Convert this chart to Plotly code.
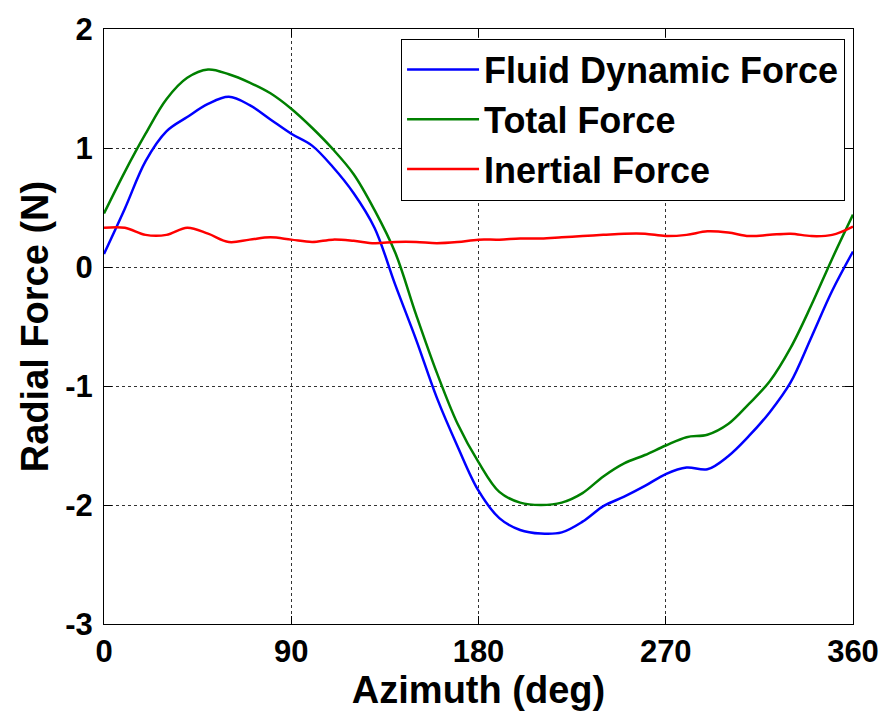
import plotly.graph_objects as go

# Azimuth positions (deg) and radial force components (N)
azimuth = [0, 10, 20, 30, 40, 50, 60, 70, 80, 90, 100, 110, 120, 130, 140, 150,
           160, 170, 180, 190, 200, 210, 220, 230, 240, 250, 260, 270, 280, 290,
           300, 310, 320, 330, 340, 350, 360]

fluid_dynamic = [0.11, 0.49, 0.89, 1.14, 1.26, 1.37, 1.43, 1.36, 1.24, 1.12, 1.02,
                 0.84, 0.62, 0.33, -0.15, -0.61, -1.10, -1.51, -1.88, -2.11, -2.21,
                 -2.24, -2.23, -2.14, -2.01, -1.93, -1.84, -1.74, -1.685, -1.70,
                 -1.59, -1.42, -1.22, -0.97, -0.59, -0.20, 0.13]

total = [0.45, 0.80, 1.12, 1.41, 1.59, 1.66, 1.62, 1.55, 1.46, 1.33, 1.17, 0.99,
         0.78, 0.48, 0.12, -0.40, -0.89, -1.32, -1.64, -1.89, -1.98, -2.00, -1.98,
         -1.90, -1.76, -1.65, -1.58, -1.50, -1.43, -1.41, -1.32, -1.15, -0.96,
         -0.68, -0.32, 0.07, 0.44]

inertial = [0.33, 0.33, 0.27, 0.27, 0.33, 0.28, 0.21, 0.23, 0.25, 0.23, 0.21,
            0.23, 0.22, 0.20, 0.21, 0.21, 0.20, 0.21, 0.23, 0.23, 0.24, 0.24, 0.25,
            0.26, 0.27, 0.28, 0.28, 0.26, 0.27, 0.30, 0.29, 0.26, 0.27, 0.28, 0.26,
            0.27, 0.34]

x_ticks = [0, 90, 180, 270, 360]
y_ticks = [-3, -2, -1, 0, 1, 2]

FONT = "Liberation Sans, Arial, sans-serif"

fig = go.Figure()
series = [
    ("Fluid Dynamic Force", fluid_dynamic, "#0000FF"),
    ("Total Force", total, "#008000"),
    ("Inertial Force", inertial, "#FF0000"),
]
for name, values, color in series:
    fig.add_trace(go.Scatter(
        x=azimuth, y=values, name=name, mode="lines",
        line=dict(color=color, width=2.5, shape="spline", smoothing=1.0),
    ))

axis_common = dict(
    showline=True, linecolor="black", linewidth=1, mirror="ticks",
    ticks="inside", ticklen=8, tickcolor="black", tickwidth=1,
    showgrid=True, gridcolor="#333333", griddash="dot", gridwidth=1,
    zeroline=False,
    tickfont=dict(family=FONT, size=31, color="black", weight="bold"),
)

fig.update_xaxes(
    range=[0, 360], tickvals=x_ticks, ticktext=[str(v) for v in x_ticks],
    title=dict(text="Azimuth (deg)", standoff=6,
               font=dict(family=FONT, size=38, color="black", weight="bold")),
    ticklabelstandoff=0,
    **axis_common,
)
fig.update_yaxes(
    range=[-3, 2], tickvals=y_ticks, ticktext=[str(v) for v in y_ticks],
    title=dict(text="Radial Force (N)", standoff=4,
               font=dict(family=FONT, size=38, color="black", weight="bold")),
    ticklabelstandoff=4,
    **axis_common,
)

fig.update_layout(
    width=891, height=715,
    margin=dict(l=104, r=32, t=24, b=91),
    paper_bgcolor="white", plot_bgcolor="white",
    showlegend=True,
    legend=dict(
        x=0.9894, y=0.984, xanchor="right", yanchor="top",
        bgcolor="white", bordercolor="black", borderwidth=1,
        font=dict(family=FONT, size=36, color="black", weight="bold"),
        tracegroupgap=0, itemwidth=72,
    ),
)

fig.write_html("out.html")
